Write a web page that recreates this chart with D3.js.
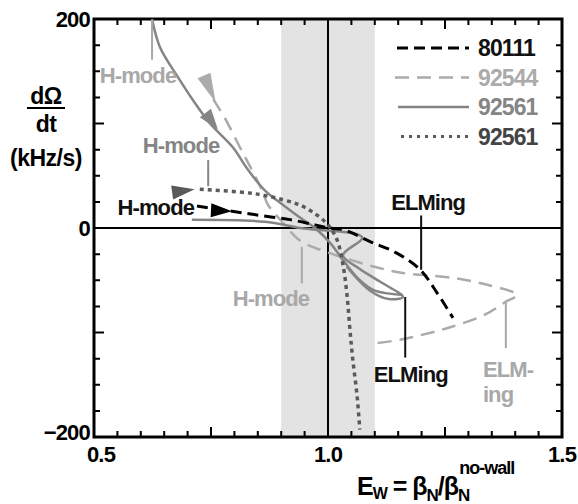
<!DOCTYPE html>
<html>
<head>
<meta charset="utf-8">
<script src="https://cdn.jsdelivr.net/npm/d3@7"></script>
<style>
  body { margin: 0; background: #fff; }
  text { font-family: "Liberation Sans", Arial, sans-serif; font-weight: bold; }
</style>
</head>
<body>
<div id="chart"></div>
<script>
// shot 80111, black dashed  [E_w, dOmega/dt]
var s80111 = [[0.720, 21], [0.795, 16], [0.855, 12], [0.919, 8], [0.972, 3], [1.004, 0],
              [1.036, -2], [1.090, -13], [1.147, -24], [1.197, -40], [1.233, -62], [1.267, -86]];

// shot 92544, light grey dashed
var s92544 = [[0.733, 142], [0.754, 124], [0.780, 105], [0.812, 77], [0.838, 55], [0.859, 36],
              [0.872, 22], [0.908, 3], [0.940, -12], [1.004, -24], [1.107, -38], [1.160, -43],
              [1.271, -48], [1.346, -55], [1.404, -64], [1.378, -71], [1.335, -83], [1.261, -95],
              [1.203, -102], [1.154, -107], [1.105, -110]];

// shot 92561, grey solid (main trace and the lower branch)
var s92561 = [[0.624, 200], [0.641, 173], [0.677, 146], [0.712, 122], [0.748, 100], [0.797, 77],
              [0.827, 57], [0.865, 36], [0.904, 22], [0.940, 10], [0.972, 0], [1.004, -14],
              [1.036, -33], [1.068, -50], [1.100, -60], [1.160, -64]];
var s92561b = [[0.709, 8], [0.865, 6], [0.940, 0], [1.073, -9], [1.032, -26], [1.064, -38],
               [1.110, -51], [1.160, -66], [1.130, -68], [1.090, -60], [1.040, -37]];

// shot 92561, dark grey dotted
var s92561d = [[0.726, 37], [0.797, 35], [0.855, 32], [0.904, 27], [0.940, 22], [0.968, 15],
               [0.998, 4], [1.019, -11], [1.032, -35], [1.041, -66], [1.047, -98], [1.053, -126],
               [1.062, -160], [1.068, -193]];

// arrow heads: [from, to]
var arrow80111 = [[0.750, 17], [0.795, 16]];
var arrow92544 = [[0.735, 146], [0.760, 120]];
var arrow92561 = [[0.738, 110], [0.765, 94]];
var arrow92561d = [[0.667, 34], [0.715, 37]];

var legendNames = ["80111", "92544", "92561", "92561"];
var xTickLabels = [0.5, 1.0, 1.5];
var yTickLabels = [200, 0, -200];
var wallBand = [0.9, 1.1];

var annotations = [
    {text: ["H-mode"], x: 0.594, y: 139, color: "#a8a8a8", anchor: "middle", ptr: [0.624, 199, 161]},
    {text: ["H-mode"], x: 0.686, y: 72, color: "#858585", anchor: "middle", ptr: [0.744, 65, 40]},
    {text: ["H-mode"], x: 0.632, y: 12, color: "#111", anchor: "middle", ptr: null},
    {text: ["H-mode"], x: 0.878, y: -75, color: "#a8a8a8", anchor: "middle", ptr: [0.944, -18, -53]},
    {text: ["ELMing"], x: 1.214, y: 17, color: "#111", anchor: "middle", ptr: [1.199, 12, -40]},
    {text: ["ELMing"], x: 1.177, y: -147, color: "#111", anchor: "middle", ptr: [1.165, -66, -124]},
    {text: ["ELM-", "ing"], x: 1.331, y: -143, color: "#a8a8a8", anchor: "start", ptr: [1.380, -71, -115]}
];

var w = 578, h = 504;
var x = d3.scaleLinear().domain([0.5, 1.5]).range([94, 562]);
var y = d3.scaleLinear().domain([-200, 200]).range([437, 19]);

var svg = d3.select("#chart").append("svg")
            .attr("width", w)
            .attr("height", h);

// no-wall limit band
svg.append("rect")
   .attr("x", x(wallBand[0]))
   .attr("y", y(200))
   .attr("width", x(wallBand[1]) - x(wallBand[0]))
   .attr("height", y(-200) - y(200))
   .attr("fill", "#e3e3e3");

// zero lines
svg.append("line")
   .attr("x1", x(0.5)).attr("x2", x(1.5))
   .attr("y1", y(0)).attr("y2", y(0))
   .attr("stroke", "#000").attr("stroke-width", 2);
svg.append("line")
   .attr("x1", x(1.0)).attr("x2", x(1.0))
   .attr("y1", y(200)).attr("y2", y(-200))
   .attr("stroke", "#000").attr("stroke-width", 2);

// frame
svg.append("rect")
   .attr("x", x(0.5)).attr("y", y(200))
   .attr("width", x(1.5) - x(0.5)).attr("height", y(-200) - y(200))
   .attr("fill", "none").attr("stroke", "#000").attr("stroke-width", 3);

// inside ticks on all four sides, long ones on the majors (drawn as one path)
var xTicks = d3.range(11, 30).map(function(i) { return i * 0.05; });
var yTicks = d3.range(-7, 8).map(function(i) { return i * 25; });

var tickPath = d3.path();
xTicks.forEach(function(d) {
    var len = (Math.round(d * 100) % 25 === 0) ? 10 : 6;
    tickPath.moveTo(x(d), y(-200)); tickPath.lineTo(x(d), y(-200) - len);
    tickPath.moveTo(x(d), y(200)); tickPath.lineTo(x(d), y(200) + len);
});
yTicks.forEach(function(d) {
    var len = (Math.abs(d) === 100) ? 10 : 6;
    tickPath.moveTo(x(0.5), y(d)); tickPath.lineTo(x(0.5) + len, y(d));
    tickPath.moveTo(x(1.5), y(d)); tickPath.lineTo(x(1.5) - len, y(d));
});
svg.append("path")
   .attr("d", tickPath.toString())
   .attr("fill", "none")
   .attr("stroke", "#000")
   .attr("stroke-width", 2);

// tick labels
svg.selectAll(".xl")
   .data(xTickLabels)
   .enter().append("text")
   .attr("x", function(d, i) { return x(d) + (i === 0 ? 7 : 0); })
   .attr("y", 462)
   .attr("text-anchor", "middle")
   .attr("font-size", 22)
   .attr("letter-spacing", -0.8)
   .text(function(d) { return d.toFixed(1); });

svg.selectAll(".yl")
   .data(yTickLabels)
   .enter().append("text")
   .attr("x", 90)
   .attr("y", function(d) { return y(d) + (d === -200 ? 3 : 8); })
   .attr("text-anchor", "end")
   .attr("font-size", 22)
   .attr("letter-spacing", -0.8)
   .text(function(d) { return d < 0 ? "\u2212" + Math.abs(d) : d; });

// series
var line = d3.line()
             .x(function(d) { return x(d[0]); })
             .y(function(d) { return y(d[1]); })
             .curve(d3.curveCatmullRom.alpha(0.5));

var series = [
    {data: s92544, color: "#ababab", width: 2.5, dash: "14,8"},
    {data: s92561, color: "#858585", width: 2.5, dash: null},
    {data: s92561b, color: "#858585", width: 2.5, dash: null},
    {data: s92561d, color: "#5a5a5a", width: 3.5, dash: "4,4"},
    {data: s80111, color: "#000", width: 3, dash: "11,6"}
];

series.forEach(function(s) {
    svg.append("path")
       .attr("d", line(s.data))
       .attr("fill", "none")
       .attr("stroke", s.color)
       .attr("stroke-width", s.width)
       .attr("stroke-dasharray", s.dash)
       .attr("stroke-linejoin", "round");
});

// arrow heads
function arrow(a, color) {
    var x1 = x(a[0][0]), y1 = y(a[0][1]), x2 = x(a[1][0]), y2 = y(a[1][1]);
    var ang = Math.atan2(y2 - y1, x2 - x1);
    var len = Math.hypot(x2 - x1, y2 - y1), hw = 7;
    var bx = x2 - len * Math.cos(ang), by = y2 - len * Math.sin(ang);
    var pts = [[x2, y2],
               [bx + hw * Math.sin(ang), by - hw * Math.cos(ang)],
               [bx - hw * Math.sin(ang), by + hw * Math.cos(ang)]];
    svg.append("path")
       .attr("d", "M" + pts.join("L") + "Z")
       .attr("fill", color);
}
arrow(arrow92544, "#ababab");
arrow(arrow92561, "#858585");
arrow(arrow92561d, "#5a5a5a");
arrow(arrow80111, "#000");

// annotations with pointer lines
annotations.forEach(function(a) {
    if (a.ptr) {
        svg.append("line")
           .attr("x1", x(a.ptr[0])).attr("x2", x(a.ptr[0]))
           .attr("y1", y(a.ptr[1])).attr("y2", y(a.ptr[2]))
           .attr("stroke", a.color).attr("stroke-width", 2);
    }
    a.text.forEach(function(t, i) {
        svg.append("text")
           .attr("x", x(a.x))
           .attr("y", y(a.y) + i * 25)
           .attr("text-anchor", a.anchor)
           .attr("font-size", 22)
           .attr("letter-spacing", -0.9)
           .attr("fill", a.color)
           .text(t);
    });
});

// legend
var legendStyle = [
    {color: "#000", width: 3, dash: "11,6", x1: 397},
    {color: "#ababab", width: 2.5, dash: "14,8", x1: 395},
    {color: "#858585", width: 2.5, dash: null, x1: 398},
    {color: "#5a5a5a", width: 3, dash: "3,5", x1: 401}
];
var textColor = ["#111", "#ababab", "#858585", "#444"];
legendNames.forEach(function(n, i) {
    var ly = 48 + i * 29.5;
    svg.append("line")
       .attr("x1", legendStyle[i].x1).attr("x2", 469)
       .attr("y1", ly).attr("y2", ly)
       .attr("stroke", legendStyle[i].color)
       .attr("stroke-width", legendStyle[i].width)
       .attr("stroke-dasharray", legendStyle[i].dash);
    svg.append("text")
       .attr("x", 478)
       .attr("y", ly + 8)
       .attr("font-size", 23)
       .attr("letter-spacing", -0.9)
       .attr("fill", textColor[i])
       .text(n);
});

// y axis title
var yt = svg.append("g").attr("text-anchor", "middle").attr("letter-spacing", -0.5);
yt.append("text").attr("x", 46).attr("y", 104).attr("font-size", 23).text("d\u03A9");
yt.append("line").attr("x1", 27).attr("x2", 65).attr("y1", 108).attr("y2", 108)
  .attr("stroke", "#000").attr("stroke-width", 2);
yt.append("text").attr("x", 46).attr("y", 132).attr("font-size", 23).text("dt");
yt.append("text").attr("x", 46).attr("y", 166).attr("font-size", 23).text("(kHz/s)");

// x axis title
var xt = svg.append("text")
            .attr("x", 357)
            .attr("y", 495)
            .attr("font-size", 25)
            .attr("letter-spacing", -1);
xt.append("tspan").text("E");
xt.append("tspan").attr("font-size", 16).attr("dy", 4).text("W");
xt.append("tspan").attr("dy", -4).text(" = \u03B2");
xt.append("tspan").attr("font-size", 17).attr("dy", 6).text("N");
xt.append("tspan").attr("dy", -6).text("/\u03B2");
xt.append("tspan").attr("font-size", 17).attr("dy", 6).text("N");
xt.append("tspan").attr("font-size", 18).attr("dx", -10).attr("dy", -27).text("no-wall");
</script>
</body>
</html>
